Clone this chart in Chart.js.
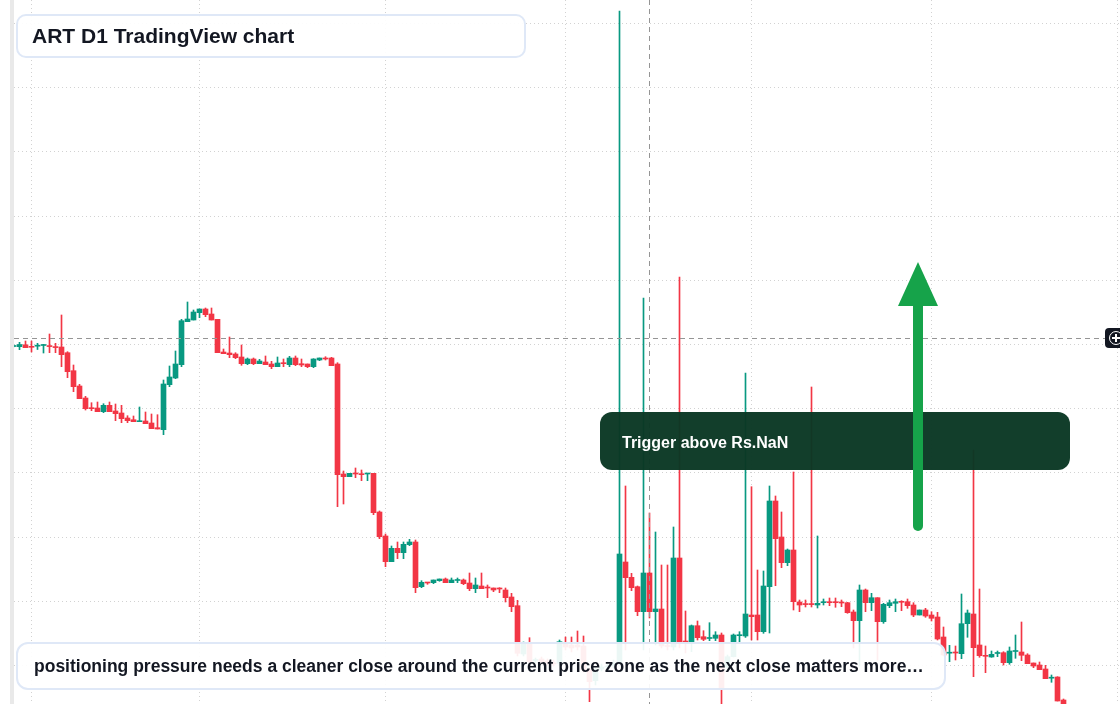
<!DOCTYPE html>
<html lang="en">
<head>
<meta charset="UTF-8" />
<title>ART D1 TradingView chart</title>
<script src="https://cdn.jsdelivr.net/npm/chart.js"></script>
<style>
  html, body { margin: 0; padding: 0; }
  body { width: 1120px; height: 704px; overflow: hidden; position: relative; background: #fff; font-family: 'Liberation Sans', Arial, sans-serif; }
  #strip { position: absolute; left: 10px; top: 0; width: 4px; height: 704px; background: #e9e9e9; }
  #wrap { position: absolute; left: 14px; top: 0; width: 1106px; height: 704px; }
  .card { position: absolute; box-sizing: border-box; border: 2px solid #dfe8f7; background: rgba(255,255,255,0.92); color: #131722; font-weight: bold; white-space: nowrap; }
  #title { left: 16px; top: 14px; width: 510px; height: 44px; border-radius: 10px; font-size: 21px; line-height: 40px; padding-left: 14px; }
  #note { left: 16px; top: 642px; width: 930px; height: 48px; border-radius: 12px; font-size: 17.5px; line-height: 44px; padding-left: 16px; }
  #trigger { position: absolute; left: 600px; top: 412px; width: 470px; height: 58px; box-sizing: border-box; border-radius: 12px; background: rgba(10,56,36,0.97); color: #fff; font-weight: bold; font-size: 16px; line-height: 58px; padding: 2px 0 0 22px; }
  #arrow { position: absolute; left: 0; top: 0; pointer-events: none; }
  #marker { position: absolute; left: 1105px; top: 328px; width: 22px; height: 20px; background: #131722; border-radius: 4px; }
  #marker .ring { position: absolute; left: 4px; top: 3px; width: 14px; height: 14px; box-sizing: border-box; border: 1.5px solid #fff; border-radius: 50%; }
  #marker .h { position: absolute; left: 7px; top: 9px; width: 8px; height: 2px; background: #fff; }
  #marker .v { position: absolute; left: 10px; top: 6px; width: 2px; height: 8px; background: #fff; }
</style>
</head>
<body>

  <div id="strip"></div>
  <div id="wrap"><canvas id="candles" width="1106" height="704"></canvas></div>

  <div class="card" id="title">ART D1 TradingView chart</div>
  <div class="card" id="note">positioning pressure needs a cleaner close around the current price zone as the next close matters more…</div>
  <div id="trigger">Trigger above Rs.NaN</div>

  <svg id="arrow" width="1120" height="704">
    <line x1="918" y1="300" x2="918" y2="526" stroke="#16a34a" stroke-width="10" stroke-linecap="round" />
    <polygon points="898,306 938,306 918,262" fill="#16a34a" />
  </svg>

  <div id="marker"><div class="ring"></div><div class="h"></div><div class="v"></div></div>

  <script>
    // daily candles, index 0 = 29 Jan
    const opens = [
      14.535, 14.533, 14.552, 14.533, 14.538, 14.545, 14.54, 14.53, 14.53, 14.473,
      14.293, 14.14, 14.02, 13.923, 13.92, 13.883, 13.947, 13.89, 13.87, 13.82,
      13.803, 13.783, 13.79, 13.77, 13.723, 13.703, 14.153, 14.22, 14.353, 14.783,
      14.80, 14.873, 14.91, 14.86, 14.807, 14.48, 14.47, 14.46, 14.43, 14.363,
      14.41, 14.363, 14.38, 14.36, 14.333, 14.37, 14.353, 14.42, 14.363, 14.36,
      14.333, 14.40, 14.42, 14.42, 14.36, 13.26, 13.233, 13.267, 13.26, 13.26,
      13.267, 12.88, 12.64, 12.383, 12.517, 12.473, 12.553, 12.58, 12.133, 12.177,
      12.173, 12.193, 12.21, 12.173, 12.195, 12.20, 12.17, 12.113, 12.14, 12.127,
      12.12, 12.115, 12.10, 12.03, 11.943, 11.46, 11.56, 11.395, 11.41, 11.39,
      11.37, 11.367, 11.57, 11.55, 11.55, 11.54, 11.30, 11.193, 11.31, 11.33,
      11.34, 11.37, 12.38, 12.227, 12.133, 11.883, 12.27, 11.883, 11.91, 11.545,
      11.53, 12.42, 11.59, 11.58, 11.743, 11.633, 11.615, 11.617, 11.65, 11.33,
      11.433, 11.643, 11.64, 11.85, 11.85, 11.683, 12.133, 12.99, 12.63, 12.373,
      12.50, 11.98, 11.96, 11.96, 11.95, 11.973, 11.98, 11.98, 11.977, 11.973,
      11.88, 11.793, 12.10, 11.973, 12.023, 11.783, 11.943, 11.967, 11.983, 11.983,
      11.95, 11.85, 11.90, 11.85, 11.83, 11.63, 11.468, 11.475, 11.463, 11.763,
      11.86, 11.55, 11.443, 11.43, 11.465, 11.473, 11.373, 11.485, 11.48, 11.45,
      11.37, 11.35, 11.31, 11.218, 11.23, 11.00
    ];
    const highs = [
      14.55, 14.577, 14.59, 14.59, 14.567, 14.557, 14.66, 14.567, 14.85, 14.483,
      14.35, 14.157, 14.037, 13.973, 13.98, 13.963, 13.98, 13.96, 13.947, 13.843,
      13.84, 13.93, 13.88, 13.86, 13.853, 14.20, 14.34, 14.49, 14.807, 14.98,
      14.90, 14.91, 14.92, 14.92, 14.807, 14.51, 14.63, 14.473, 14.55, 14.42,
      14.42, 14.407, 14.44, 14.387, 14.43, 14.41, 14.437, 14.44, 14.41, 14.36,
      14.413, 14.42, 14.433, 14.427, 14.373, 13.29, 13.267, 13.32, 13.30, 13.267,
      13.267, 12.89, 12.66, 12.54, 12.58, 12.58, 12.607, 12.60, 12.193, 12.177,
      12.20, 12.21, 12.22, 12.22, 12.22, 12.21, 12.27, 12.22, 12.27, 12.15,
      12.12, 12.123, 12.12, 12.067, 11.997, 11.58, 11.623, 11.42, 11.43, 11.41,
      11.40, 11.60, 11.63, 11.63, 11.69, 11.64, 11.32, 11.33, 11.36, 11.38,
      11.40, 17.89, 13.14, 12.267, 12.14, 15.02, 12.87, 12.68, 12.35, 12.35,
      12.73, 15.23, 11.89, 11.75, 11.79, 11.693, 11.773, 11.683, 11.67, 11.45,
      11.66, 11.683, 14.27, 13.133, 12.30, 12.29, 13.14, 13.04, 12.88, 12.51,
      13.28, 12.00, 12.00, 14.13, 12.64, 12.01, 12.02, 12.02, 12.00, 11.977,
      11.90, 12.15, 12.11, 12.067, 12.023, 11.967, 12.00, 12.01, 11.993, 12.01,
      11.973, 11.90, 11.917, 11.883, 11.877, 11.73, 11.547, 11.54, 12.06, 11.90,
      13.50, 12.11, 11.54, 11.49, 11.49, 11.483, 11.53, 11.65, 11.78, 11.463,
      11.37, 11.38, 11.347, 11.25, 11.233, 11.01
    ];
    const lows = [
      14.53, 14.503, 14.523, 14.48, 14.505, 14.47, 14.473, 14.473, 14.333, 14.223,
      14.083, 14.013, 13.90, 13.893, 13.883, 13.873, 13.883, 13.793, 13.773, 13.773,
      13.783, 13.783, 13.763, 13.713, 13.71, 13.653, 14.133, 14.213, 14.333, 14.783,
      14.80, 14.823, 14.833, 14.80, 14.473, 14.463, 14.423, 14.413, 14.347, 14.353,
      14.353, 14.363, 14.353, 14.313, 14.333, 14.333, 14.333, 14.343, 14.333, 14.323,
      14.323, 14.393, 14.40, 14.343, 12.933, 12.96, 13.233, 13.223, 13.193, 13.193,
      12.853, 12.613, 12.333, 12.383, 12.413, 12.413, 12.543, 12.073, 12.123, 12.157,
      12.163, 12.187, 12.173, 12.173, 12.173, 12.153, 12.093, 12.073, 12.113, 12.023,
      12.083, 12.073, 11.98, 11.883, 11.44, 11.44, 11.37, 11.37, 11.37, 11.35,
      11.34, 11.35, 11.50, 11.48, 11.50, 11.28, 10.983, 11.15, 11.29, 11.31,
      11.32, 11.35, 11.50, 12.093, 11.843, 11.50, 11.82, 11.55, 11.52, 11.50,
      11.50, 11.52, 11.47, 11.483, 11.60, 11.593, 11.593, 11.593, 10.80, 11.32,
      11.43, 11.583, 11.627, 11.60, 11.60, 11.667, 11.67, 12.143, 12.323, 12.343,
      11.90, 11.883, 11.93, 11.93, 11.92, 11.95, 11.943, 11.927, 11.933, 11.867,
      11.52, 11.34, 11.883, 11.893, 11.40, 11.767, 11.923, 11.883, 11.893, 11.917,
      11.833, 11.85, 11.827, 11.79, 11.60, 11.44, 11.383, 11.40, 11.413, 11.627,
      11.233, 11.427, 11.273, 11.427, 11.433, 11.35, 11.357, 11.417, 11.393, 11.363,
      11.323, 11.303, 11.213, 11.177, 10.99, 10.86
    ];
    const closes = [
      14.54, 14.555, 14.523, 14.527, 14.543, 14.55, 14.534, 14.524, 14.453, 14.283,
      14.133, 14.013, 13.913, 13.913, 13.883, 13.947, 13.883, 13.863, 13.813, 13.793,
      13.783, 13.79, 13.763, 13.713, 13.71, 14.16, 14.23, 14.36, 14.793, 14.81,
      14.88, 14.91, 14.853, 14.80, 14.473, 14.463, 14.453, 14.423, 14.363, 14.41,
      14.363, 14.39, 14.353, 14.333, 14.37, 14.363, 14.42, 14.353, 14.35, 14.333,
      14.41, 14.42, 14.41, 14.343, 13.253, 13.233, 13.267, 13.26, 13.253, 13.267,
      12.873, 12.633, 12.383, 12.517, 12.473, 12.557, 12.58, 12.123, 12.177, 12.17,
      12.20, 12.21, 12.173, 12.20, 12.20, 12.163, 12.113, 12.15, 12.113, 12.12,
      12.10, 12.11, 12.023, 11.933, 11.467, 11.56, 11.383, 11.40, 11.383, 11.37,
      11.36, 11.583, 11.53, 11.52, 11.53, 11.30, 11.183, 11.30, 11.33, 11.34,
      11.37, 12.46, 12.223, 12.123, 11.883, 12.27, 11.883, 11.91, 11.54, 11.535,
      12.42, 11.58, 11.58, 11.743, 11.623, 11.607, 11.62, 11.65, 11.12, 11.433,
      11.65, 11.647, 11.86, 11.833, 11.683, 12.14, 12.99, 12.613, 12.373, 12.50,
      11.983, 11.95, 11.954, 11.954, 11.967, 11.983, 11.973, 11.973, 11.97, 11.873,
      11.793, 12.10, 11.973, 12.023, 11.783, 11.957, 11.973, 11.983, 11.977, 11.943,
      11.85, 11.90, 11.84, 11.817, 11.61, 11.45, 11.473, 11.47, 11.763, 11.87,
      11.523, 11.443, 11.437, 11.457, 11.47, 11.373, 11.49, 11.49, 11.447, 11.363,
      11.34, 11.303, 11.213, 11.223, 10.99, 10.88
    ];

    // month boundaries (day index) for the vertical grid, price levels for the horizontal grid
    const monthStarts = [3, 31, 62, 92, 123, 153, 184];
    const monthNames = ['Feb', 'Mar', 'Apr', 'May', 'Jun', 'Jul', 'Aug'];
    const gridPrices = [17.767, 17.125, 16.483, 15.84, 15.198, 14.556, 13.914, 13.272, 12.63, 11.988, 11.346];

    // crosshair position
    const crossDay = 106;
    const crossPrice = 14.615;

    const UP = '#089981';
    const DOWN = '#f23645';

    const days = opens.map((_, i) => i);
    const colors = days.map(i => closes[i] >= opens[i] ? UP : DOWN);

    const crosshair = {
      id: 'crosshair',
      afterDatasetsDraw(chart) {
        const { ctx, chartArea, scales: { x, y } } = chart;
        const px = Math.floor(x.getPixelForValue(crossDay)) + 0.5;
        const py = Math.floor(y.getPixelForValue(crossPrice)) + 0.5;
        ctx.save();
        ctx.strokeStyle = '#959595';
        ctx.lineWidth = 1;
        ctx.setLineDash([5, 4]);
        ctx.beginPath();
        ctx.moveTo(chartArea.left, py);
        ctx.lineTo(chartArea.right, py);
        ctx.moveTo(px, chartArea.top);
        ctx.lineTo(px, chartArea.bottom);
        ctx.stroke();
        ctx.restore();
      }
    };

    const ctx = document.getElementById('candles').getContext('2d');
    new Chart(ctx, {
      type: 'bar',
      data: {
        datasets: [
          {
            label: 'body',
            data: days.map(i => ({ x: i, y: [opens[i], closes[i]] })),
            backgroundColor: colors,
            barThickness: 5,
            minBarLength: 1,
            grouped: false,
            order: 0
          },
          {
            label: 'wick',
            data: days.map(i => ({ x: i, y: [lows[i], highs[i]] })),
            backgroundColor: colors,
            barThickness: 1,
            grouped: false,
            order: 1
          }
        ]
      },
      options: {
        responsive: false,
        animation: false,
        layout: { padding: 0 },
        plugins: { legend: { display: false }, tooltip: { enabled: false } },
        scales: {
          x: {
            type: 'linear',
            min: 0.0833,
            max: 184.4167,
            offset: false,
            grid: { offset: false, color: '#d2d2d2', drawTicks: false },
            border: { display: false, dash: [1, 3] },
            ticks: { display: false, callback: (v) => monthNames[monthStarts.indexOf(v)] || '' },
            afterBuildTicks: (s) => { s.ticks = monthStarts.map(v => ({ value: v })); }
          },
          y: {
            min: 10.96,
            max: 18,
            grid: { color: '#d2d2d2', drawTicks: false },
            border: { display: false, dash: [1, 3] },
            ticks: { display: false },
            afterBuildTicks: (s) => { s.ticks = gridPrices.map(v => ({ value: v })); }
          }
        }
      },
      plugins: [crosshair]
    });
  </script>

</body>
</html>
